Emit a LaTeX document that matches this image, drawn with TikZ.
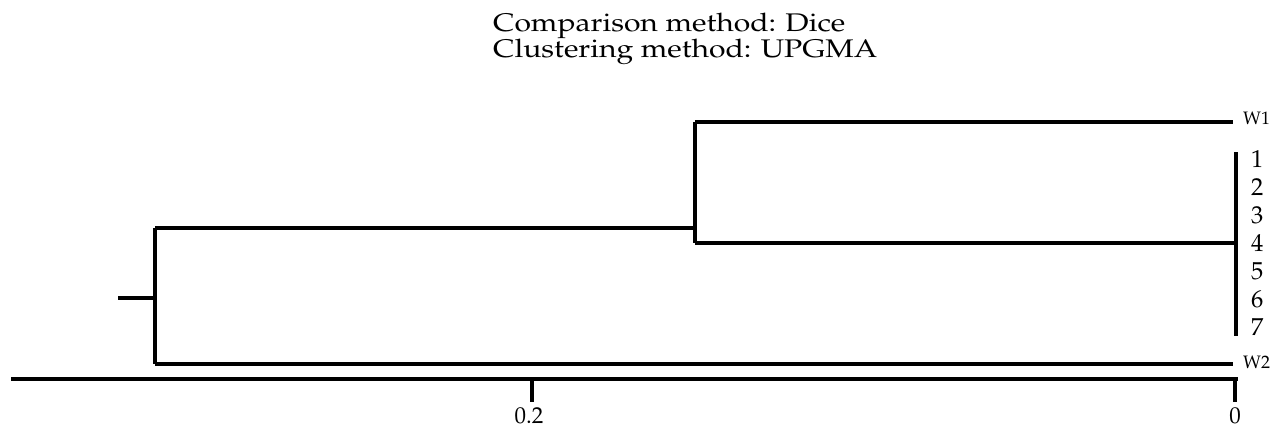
\documentclass[tikz,border=0pt]{standalone}
\usepackage[T1]{fontenc}
\usepackage{graphicx}
\renewcommand{\rmdefault}{ppl}
\begin{document}
\begin{tikzpicture}[x=1pt,y=-1pt,
  br/.style={line width=4pt},
  ttl/.style={anchor=base west,inner sep=0pt,font=\fontsize{25.5}{26}\selectfont},
  leaf/.style={anchor=west,inner sep=0pt,font=\fontsize{24.5}{28}\selectfont},
  wlab/.style={anchor=west,inner sep=0pt,font=\fontsize{18}{20}\selectfont},
  ax/.style={anchor=base,inner sep=0pt,font=\fontsize{23}{26}\selectfont}]
\useasboundingbox (0,0) rectangle (1271,428);
\node[ttl] (title1) at (493,32) {\scalebox{1.18}[1]{Comparison method: Dice}};
\node[ttl] (title2) at (493,58) {\scalebox{1.18}[1]{Clustering method: UPGMA}};
% coordinates
\coordinate (root) at (118,298);
\coordinate (a) at (155,298);
\coordinate (aT) at (155,228);
\coordinate (aB) at (155,364);
\coordinate (b) at (695,228);
\coordinate (bT) at (695,122);
\coordinate (bB) at (695,243);
\coordinate (w1) at (1233,122);
\coordinate (c) at (1236,243);
\coordinate (cT) at (1236,152);
\coordinate (cB) at (1236,336);
\coordinate (w2) at (1233,364);
\draw[br] (root) -- (a);
\draw[br] (aT) -- (aB);
\draw[br] (aT) -- (b);
\draw[br] (bT) -- (bB);
\draw[br] (bT) -- (w1);
\draw[br] (bB) -- (c);
\draw[br] (cT) -- (cB);
\draw[br] (aB) -- (w2);
\node[wlab] (lw1) at (1243,118) {W1};
\node[wlab] (lw2) at (1243,362) {W2};
\foreach \i/\y in {1/159,2/187,3/215,4/243,5/271,6/299,7/327}
  \node[leaf] (n\i) at (1251,\y) {\i};
% axis
\coordinate (axL) at (11,379);
\coordinate (axR) at (1238,379);
\coordinate (t1) at (532,379);
\coordinate (t2) at (1235,379);
\coordinate (b1) at (532,402);
\coordinate (b2) at (1235,402);
\draw[br] (axL) -- (axR);
\draw[br] (t1) -- (b1);
\draw[br] (t2) -- (b2);
\node[ax] (l1) at (529,423) {0.2};
\node[ax] (l2) at (1235,423) {0};
\end{tikzpicture}
\end{document}
